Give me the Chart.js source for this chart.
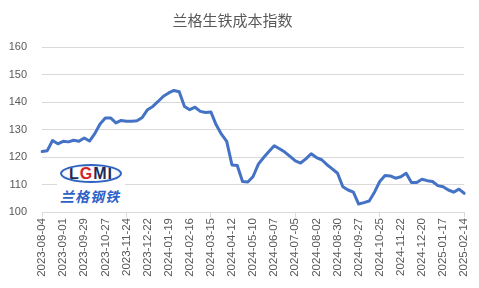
<!DOCTYPE html>
<html lang="zh">
<head>
    <meta charset="UTF-8">
    <title>兰格生铁成本指数</title>
    <script src="https://cdn.jsdelivr.net/npm/chart.js"></script>
    <style>
        body { margin: 0; background: #fff; }
        .wrap { position: relative; width: 479px; height: 288px; }
        .logo { position: absolute; left: 57px; top: 161px; width: 68px; height: 46px; background: #fff; }
        .logo .oval {
            position: absolute; left: 3px; top: 3px; width: 58px; height: 15px;
            border: 2px solid #2f63c0; border-radius: 50%;
            background: radial-gradient(ellipse at center, #ffffff 55%, #c9d8f2 100%);
            font: bold 16px "Liberation Sans", sans-serif; text-align: center; line-height: 16px;
            color: #1f2b55; letter-spacing: 1px; overflow: hidden;
        }
        .logo .oval span { color: #d42424; }
        .logo .cn {
            position: absolute; left: 3px; top: 27px;
            font: bold italic 14px "Noto Sans CJK SC", sans-serif; color: #2b63c8;
            letter-spacing: 1px; line-height: 16px;
        }
    </style>
</head>
<body>
    <div class="wrap">
        <canvas id="pigIronChart"></canvas>
        <!-- 兰格钢铁 logo -->
        <div class="logo">
            <div class="oval">L<span>G</span>MI</div>
            <div class="cn">兰格钢铁</div>
        </div>
    </div>
    <script>
        const weeks = [
            '2023-08-04', '2023-08-11', '2023-08-18', '2023-08-25', '2023-09-01', '2023-09-08', '2023-09-15', '2023-09-22', '2023-09-29',
            '2023-10-06', '2023-10-13', '2023-10-20', '2023-10-27', '2023-11-03', '2023-11-10', '2023-11-17', '2023-11-24',
            '2023-12-01', '2023-12-08', '2023-12-15', '2023-12-22', '2023-12-29',
            '2024-01-05', '2024-01-12', '2024-01-19', '2024-01-26', '2024-02-02', '2024-02-09', '2024-02-16', '2024-02-23',
            '2024-03-01', '2024-03-08', '2024-03-15', '2024-03-22', '2024-03-29', '2024-04-05', '2024-04-12', '2024-04-19', '2024-04-26',
            '2024-05-03', '2024-05-10', '2024-05-17', '2024-05-24', '2024-05-31', '2024-06-07', '2024-06-14', '2024-06-21', '2024-06-28',
            '2024-07-05', '2024-07-12', '2024-07-19', '2024-07-26', '2024-08-02', '2024-08-09', '2024-08-16', '2024-08-23', '2024-08-30',
            '2024-09-06', '2024-09-13', '2024-09-20', '2024-09-27', '2024-10-04', '2024-10-11', '2024-10-18', '2024-10-25',
            '2024-11-01', '2024-11-08', '2024-11-15', '2024-11-22', '2024-11-29', '2024-12-06', '2024-12-13', '2024-12-20', '2024-12-27',
            '2025-01-03', '2025-01-10', '2025-01-17', '2025-01-24', '2025-01-31', '2025-02-07', '2025-02-14'
        ];
        const costIndex = [
            122.0, 122.3, 126.0, 124.8, 125.7, 125.5, 126.1, 125.7, 126.9, 125.8,
            128.5, 132.0, 134.2, 134.2, 132.4, 133.3, 133.0, 133.0, 133.2, 134.4,
            137.2, 138.4, 140.2, 142.1, 143.3, 144.2, 143.7, 138.4, 137.2, 138.1,
            136.6, 136.2, 136.4, 131.7, 128.3, 125.7, 117.1, 116.9, 111.1, 110.9,
            112.9, 117.4, 119.8, 122.0, 124.1, 123.0, 121.8, 120.2, 118.6, 117.8,
            119.3, 121.2, 119.8, 119.0, 117.2, 115.7, 114.1, 109.2, 108.0, 107.2,
            102.9, 103.4, 104.0, 107.2, 111.1, 113.3, 113.1, 112.3, 112.8, 114.1,
            110.7, 110.7, 111.9, 111.4, 111.1, 109.6, 109.2, 108.0, 107.2, 108.3,
            106.8
        ];
        const yTicks = [100, 110, 120, 130, 140, 150, 160];
        // one label every 4 weeks
        const labelEvery = 4;

        const grey = '#d9d9d9';
        const textGrey = '#595959';

        new Chart(document.getElementById('pigIronChart'), {
            type: 'line',
            data: {
                labels: weeks,
                datasets: [{
                    label: '兰格生铁成本指数',
                    data: costIndex,
                    borderColor: '#4472C4',
                    borderWidth: 3,
                    pointRadius: 0,
                    tension: 0,
                    borderJoinStyle: 'round',
                    borderCapStyle: 'round'
                }]
            },
            options: {
                responsive: true,
                maintainAspectRatio: false,
                animation: false,
                layout: { padding: { left: 0, right: 14, top: 0, bottom: 0 } },
                plugins: {
                    legend: { display: false },
                    tooltip: { enabled: false },
                    title: {
                        display: true,
                        text: '兰格生铁成本指数',
                        color: textGrey,
                        font: { family: '"Noto Sans CJK SC", sans-serif', size: 15, weight: 'normal' },
                        padding: { top: 11, bottom: 18 }
                    }
                },
                scales: {
                    x: {
                        grid: {
                            drawOnChartArea: false,
                            tickLength: 5,
                            color: ctx => (ctx.index % labelEvery === 0 ? grey : 'rgba(0,0,0,0)')
                        },
                        border: { color: grey },
                        ticks: {
                            autoSkip: false,
                            minRotation: 90,
                            maxRotation: 90,
                            padding: 1,
                            color: textGrey,
                            font: { family: '"Liberation Sans", sans-serif', size: 11.5 },
                            callback: (v, i) => (i % labelEvery === 0 ? weeks[i] : null)
                        },
                        afterFit: s => { s.height = 76; }
                    },
                    y: {
                        min: yTicks[0],
                        max: yTicks[yTicks.length - 1],
                        afterBuildTicks: s => { s.ticks = yTicks.map(v => ({ value: v })); },
                        grid: { color: grey, drawTicks: false },
                        border: { display: false },
                        ticks: {
                            padding: 15,
                            color: textGrey,
                            font: { family: '"Liberation Sans", sans-serif', size: 11 }
                        },
                        afterFit: s => { s.width = 42; }
                    }
                }
            }
        });
    </script>
</body>
</html>
